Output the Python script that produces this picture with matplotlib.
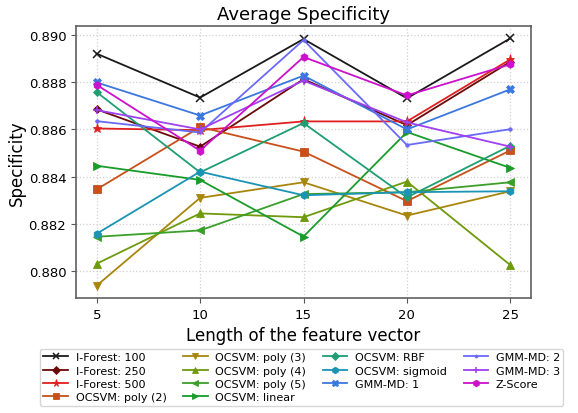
import matplotlib
matplotlib.use("Agg")
import matplotlib.pyplot as plt

lengths = [5, 10, 15, 20, 25]

if_100 = [0.88921, 0.88735, 0.88983, 0.88732, 0.88986]
if_250 = [0.88685, 0.88527, 0.88813, 0.88618, 0.88887]
if_500 = [0.88604, 0.88597, 0.88634, 0.88634, 0.88897]
poly2 = [0.88346, 0.88610, 0.88506, 0.88296, 0.88511]
poly3 = [0.87938, 0.88310, 0.88376, 0.88235, 0.88338]
poly4 = [0.88031, 0.88244, 0.88228, 0.88379, 0.88025]
poly5 = [0.88145, 0.88172, 0.88326, 0.88334, 0.88376]
linear = [0.88446, 0.88386, 0.88146, 0.88589, 0.88437]
rbf = [0.88758, 0.88418, 0.88627, 0.88312, 0.88531]
sigmoid = [0.88158, 0.88421, 0.88321, 0.88334, 0.88338]
gmm1 = [0.88799, 0.88659, 0.88828, 0.88600, 0.88770]
gmm2 = [0.88635, 0.88587, 0.88979, 0.88534, 0.88601]
gmm3 = [0.88682, 0.88600, 0.88807, 0.88630, 0.88527]
zscore = [0.88789, 0.88510, 0.88907, 0.88744, 0.88876]

series = [
    ("I-Forest: 100", if_100, "#1a1a1a", "x"),
    ("I-Forest: 250", if_250, "#6b0a0a", "D"),
    ("I-Forest: 500", if_500, "#e02020", "*"),
    ("OCSVM: poly (2)", poly2, "#c8501a", "s"),
    ("OCSVM: poly (3)", poly3, "#a8860c", "v"),
    ("OCSVM: poly (4)", poly4, "#6e9a0c", "^"),
    ("OCSVM: poly (5)", poly5, "#3aa02a", "<"),
    ("OCSVM: linear", linear, "#1a9c2a", ">"),
    ("OCSVM: RBF", rbf, "#1f9e74", "D"),
    ("OCSVM: sigmoid", sigmoid, "#1a94b4", "h"),
    ("GMM-MD: 1", gmm1, "#3a78e0", "X"),
    ("GMM-MD: 2", gmm2, "#6a6af8", "."),
    ("GMM-MD: 3", gmm3, "#a040f0", "+"),
    ("Z-Score", zscore, "#cc10cc", "h"),
]

fig = plt.figure(figsize=(5.78, 4.14), dpi=100)
ax = fig.add_axes([0.1315, 0.2778, 0.7872, 0.657])

for label, vals, color, marker in series:
    ms = 5.5
    if marker == "*":
        ms = 6.5
    elif marker == ".":
        ms = 5
    elif marker == "D":
        ms = 4.5
    ax.plot(lengths, vals, color=color, marker=marker, markersize=ms,
            linewidth=1.3, label=label,
            markeredgewidth=1.1 if marker in ("x", "+") else 0.6)

ax.set_xticks(lengths)
ax.set_yticks([0.880, 0.882, 0.884, 0.886, 0.888, 0.890])
ax.set_yticklabels(["0.880", "0.882", "0.884", "0.886", "0.888", "0.890"])
ax.tick_params(labelsize=9.5, color="#555555")
ax.grid(True, linestyle=":", color="#d0d0d0", linewidth=0.9)
for sp in ax.spines.values():
    sp.set_color("#606060")
    sp.set_linewidth(1.2)

ax.set_title("Average Specificity", fontsize=13, pad=5)
ax.set_xlabel("Length of the feature vector", fontsize=12, labelpad=4)
ax.set_ylabel("Specificity", fontsize=12, labelpad=2)

fig.legend(loc="upper center", bbox_to_anchor=(0.522, 0.168), ncol=4,
           fontsize=8.0, frameon=True, columnspacing=1.5, handlelength=2.2,
           handletextpad=0.7, labelspacing=0.3, borderpad=0.3,
           markerscale=0.85)

fig.savefig("out.png", dpi=100)
